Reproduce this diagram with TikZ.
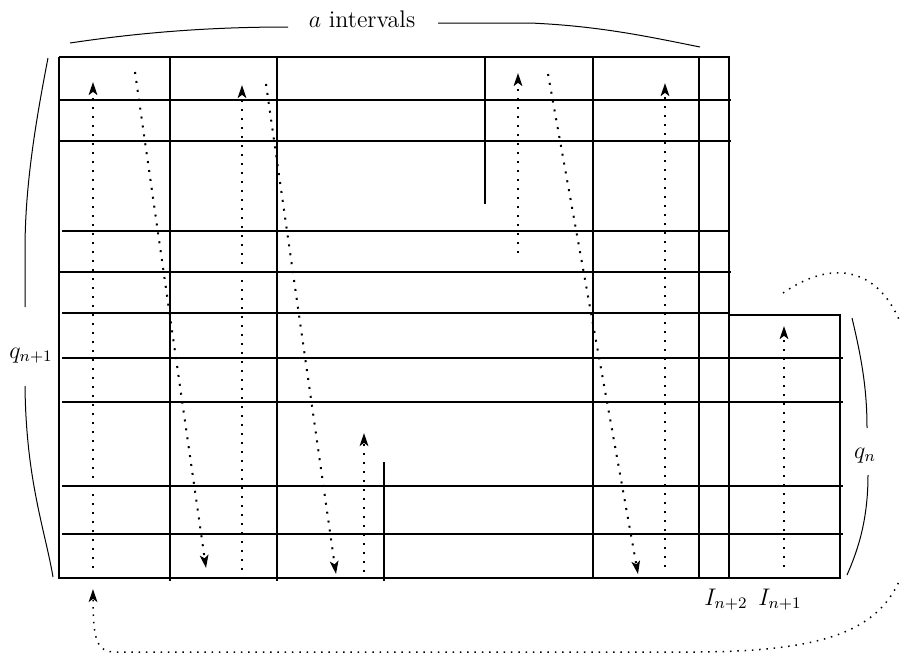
\documentclass[tikz,border=0pt]{standalone}
\usetikzlibrary{arrows.meta}
\begin{document}
\begin{tikzpicture}[x=0.5pt,y=-0.5pt,
  grid/.style={line width=0.9pt},
  brace/.style={line width=0.5pt},
  dots/.style={line width=1pt, dash pattern=on 1pt off 3.5pt},
  tip/.style={-{Stealth[length=6.5pt,width=4.3pt,inset=1.6pt]}},
  loopdots/.style={line width=0.75pt, dash pattern=on 0.75pt off 2.9pt},
  lab/.style={font=\fontsize{12}{14}\selectfont, inner sep=0pt, anchor=base}]
\useasboundingbox (0,0) rectangle (900,654);
\clip (0,0) rectangle (900,654);
% frame
\draw[grid] (59,57) -- (59,578) -- (840,578) -- (840,315) -- (729,315);
\draw[grid] (59,57) -- (729,57) -- (729,578);
\foreach \y in {100,141,272} \draw[grid] (59,\y) -- (731,\y);
\foreach \y in {231,313} \draw[grid] (62,\y) -- (729,\y);
\foreach \y in {358,402,486,534} \draw[grid] (62,\y) -- (843,\y);
% verticals
\draw[grid] (170,57) -- (170,581);
\draw[grid] (277,57) -- (277,581);
\draw[grid] (485,57) -- (485,204);
\draw[grid] (384,462) -- (384,581);
\draw[grid] (593,57) -- (593,578);
\draw[grid] (699,57) -- (699,578);
% dotted arrows
\coordinate (a1s) at (93,568);  \coordinate (a1e) at (93,82);
\coordinate (a2s) at (135,72);  \coordinate (a2e) at (206,568);
\coordinate (a3s) at (242,570); \coordinate (a3e) at (242,85);
\coordinate (a4s) at (266,84);  \coordinate (a4e) at (336,574);
\coordinate (a5s) at (364,572); \coordinate (a5e) at (364,433);
\coordinate (a6s) at (518,253); \coordinate (a6e) at (518,73);
\coordinate (a7s) at (548,74);  \coordinate (a7e) at (638,574);
\coordinate (a8s) at (665,567); \coordinate (a8e) at (665,83);
\coordinate (a9s) at (784,567); \coordinate (a9e) at (784,326);
\foreach \i in {1,...,9} \draw[dots,tip] (a\i s) -- (a\i e);
% return loop
\coordinate (ls) at (783,293);
\coordinate (le) at (93,589);
\draw[loopdots,tip] (ls) .. controls (860,240) and (922,292) .. (915,440)
  .. controls (918,600) and (900,650) .. (700,652) -- (115,652)
  .. controls (97,652) and (93,640) .. (le);
% braces
\draw[brace] (70,43) .. controls (150,31) and (220,27) .. (288,27);
\draw[brace] (438,23) -- (530,23) .. controls (600,26) and (650,37) .. (700,47);
\draw[brace] (48,58) .. controls (34,130) and (25,190) .. (25,250) -- (25,307);
\draw[brace] (25,386) .. controls (26,480) and (45,530) .. (53,577);
\draw[brace] (852,318) .. controls (862,360) and (867,390) .. (867,428);
\draw[brace] (868,475) .. controls (868,520) and (858,550) .. (847,575);
% labels
\node[lab] (top) at (362,27) {$a$ intervals};
\node[lab] (qa) at (31,358) {$q_{n+1}$};
\node[lab] (qb) at (865,458) {$q_n$};
\node[lab] (i2) at (726,605) {$I_{n+2}$};
\node[lab] (i1) at (780,605) {$I_{n+1}$};
\end{tikzpicture}
\end{document}
